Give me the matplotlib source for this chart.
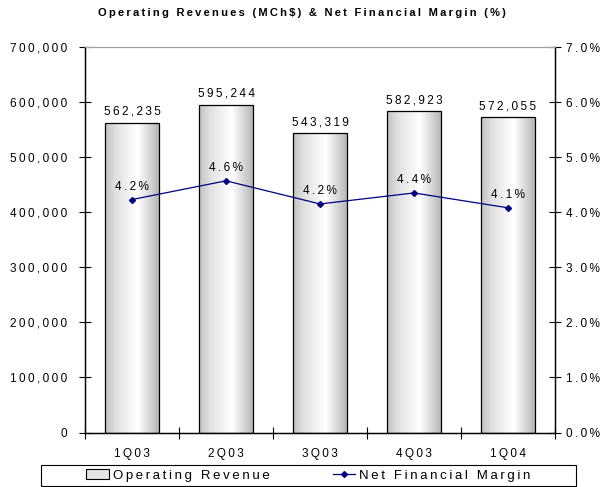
import numpy as np
import matplotlib
matplotlib.use('Agg')
import matplotlib.pyplot as plt
from matplotlib.ticker import FuncFormatter, MultipleLocator
from matplotlib.lines import Line2D
from matplotlib.patches import Rectangle

quarters = ["1Q03", "2Q03", "3Q03", "4Q03", "1Q04"]
revenue = [562235, 595244, 543319, 582923, 572055]
margin = [4.23, 4.57, 4.15, 4.35, 4.08]
margin_labels = ["4.2%", "4.6%", "4.2%", "4.4%", "4.1%"]

plt.rcParams['font.family'] = ['Liberation Sans', 'DejaVu Sans']


def sp(s):
    # wide letter spacing like the original
    return '\u2009'.join(s)


fig = plt.figure(figsize=(6.03, 4.87), dpi=100)
ax = fig.add_axes([85 / 603, 1 - 432.5 / 487, 470 / 603, 385.5 / 487])
ax2 = ax.twinx()

x = np.arange(len(quarters))
width = 0.585

# gradient bars
grad = np.interp(np.linspace(0, 1, 256), [0, 0.2, 0.6, 1], [0.76, 0.88, 1.0, 0.70])
grad_img = np.tile(grad, (2, 1))
bars = ax.bar(x, revenue, width, facecolor='none', edgecolor='black', linewidth=0.9, zorder=3)
for b in bars:
    x0, y0, w, h = b.get_x(), b.get_y(), b.get_width(), b.get_height()
    im = ax.imshow(grad_img, cmap='gray', vmin=0, vmax=1, aspect='auto',
                   extent=[x0, x0 + w, y0, y0 + h], zorder=2, interpolation='bicubic')
    im.set_clip_path(b)

for xi, v in zip(x, revenue):
    ax.text(xi, v + 9000, sp(f"{v:,}"), ha='center', va='bottom', fontsize=8.5)

ax.set_xlim(-0.5, len(quarters) - 0.5)
ax.set_ylim(0, 700000)
ax.yaxis.set_major_locator(MultipleLocator(100000))
ax.yaxis.set_major_formatter(FuncFormatter(lambda v, p: sp(f"{v:,.0f}")))
ax.set_xticks(x)
ax.set_xticklabels([sp(q) for q in quarters], fontsize=8.5)
ax.set_xticks(np.arange(-0.5, len(quarters), 1), minor=True)
ax.tick_params(axis='x', which='major', length=0, pad=11)
ax.tick_params(axis='x', which='minor', direction='inout', length=8, width=0.8)
ax.tick_params(axis='y', direction='inout', length=8, width=0.8, labelsize=8.5, pad=9)

ax2.plot(x, margin, color='#000080', linewidth=0.9, marker='D', markersize=3, zorder=5)
for xi, v, lab in zip(x, margin, margin_labels):
    ax2.text(xi, v + 0.12, sp(lab), ha='center', va='bottom', fontsize=8.5)
ax2.set_ylim(0, 7)
ax2.yaxis.set_major_locator(MultipleLocator(1))
ax2.yaxis.set_major_formatter(FuncFormatter(lambda v, p: sp(f"{v:.1f}%")))
ax2.tick_params(axis='y', direction='inout', length=8, width=0.8, labelsize=8.5, pad=4)

for a in (ax, ax2):
    a.spines['top'].set_color('#a0a0a0')
    a.spines['top'].set_linewidth(0.8)
    for s in ('left', 'right', 'bottom'):
        a.spines[s].set_linewidth(0.9)

fig.text(0.5, 1 - 13 / 487, sp("Operating Revenues (MCh$) & Net Financial Margin (%)"),
         ha='center', va='center', fontsize=8, fontweight='bold')

# legend frame drawn separately, legend entries centred inside
frame = Rectangle((41 / 603, 1 - 486 / 487), 535 / 603, 21 / 487, transform=fig.transFigure,
                  facecolor='white', edgecolor='black', linewidth=0.8)
fig.patches.append(frame)
handles = [Rectangle((0, 0), 1, 1, facecolor='#e4e4e4', edgecolor='black', linewidth=0.8),
           Line2D([], [], color='#000080', linewidth=0.9, marker='D', markersize=3)]
leg = fig.legend(handles, [sp("Operating Revenue"), sp("Net Financial Margin")],
                 loc='center', bbox_to_anchor=(308.5 / 603, 1 - 475.5 / 487),
                 ncol=2, fontsize=9.5, frameon=False, columnspacing=4.8,
                 handlelength=1.7, handletextpad=0.3, borderpad=0, borderaxespad=0)

fig.savefig('out.png', dpi=100)
